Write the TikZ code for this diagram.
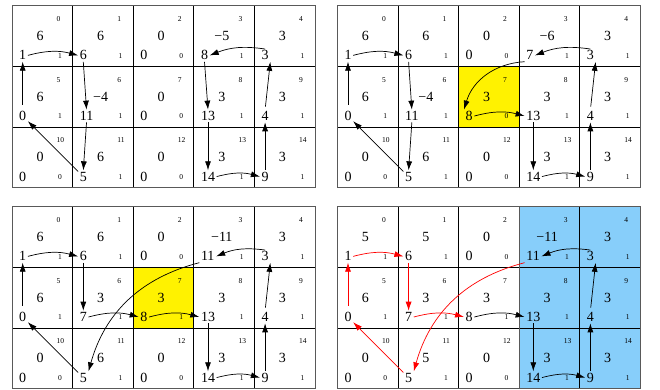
\documentclass[tikz,border=0pt]{standalone}
\usepackage{fontspec}
\setmainfont{Liberation Serif}
\usetikzlibrary{arrows.meta}
\definecolor{skyb}{RGB}{135,206,250}
\tikzset{
 big/.style={font=\fontsize{14}{14}\selectfont, inner sep=1.5pt},
 sml/.style={font=\fontsize{7.5}{7.5}\selectfont, inner sep=0pt},
 arr/.style={-{Latex[length=9pt,width=6pt]}, line width=0.7pt},
 redarr/.style={arr, red},
 gridl/.style={line width=0.8pt},
 outer/.style={line width=1pt, draw=black!65},
}
\newcommand\mypanel[4]{%
 \foreach \i/\t/\b/\s in {#4} {
   \pgfmathtruncatemacro\cc{mod(\i,5)}
   \pgfmathtruncatemacro\rr{int(\i/5)}
   \pgfmathsetmacro\xx{#2+\cc*60.6}
   \pgfmathsetmacro\yy{#3-\rr*60.6}
   \node[sml, anchor=base west] (#1i\i) at (\xx+44.5, \yy-15.7) {\i};
   \node[big, anchor=base] (#1t\i) at (\xx+28, \yy-34.5) {\t};
   \node[big, anchor=base west] (#1b\i) at (\xx+5.5, \yy-54) {\b};
   \node[sml, anchor=base] (#1s\i) at (\xx+48, \yy-52.3) {\s};
 }
}
\newcommand\mygrid[2]{%
 \foreach \k in {1,...,4} {\draw[gridl] (#1+\k*60.6,#2) -- (#1+\k*60.6,#2-181.8);}
 \foreach \k in {1,2} {\draw[gridl] (#1,#2-\k*60.6) -- (#1+303,#2-\k*60.6);}
 \draw[outer] (#1,#2) rectangle (#1+303,#2-181.8);
}
\begin{document}
\begin{tikzpicture}[x=1pt,y=1pt]
\useasboundingbox (0,0) rectangle (660,390);
% backgrounds
\fill[yellow] (337.3+2*60.6,384-60.6) rectangle (337.3+3*60.6,384-2*60.6);
\fill[yellow] (12+2*60.6,183-60.6) rectangle (12+3*60.6,183-2*60.6);
\fill[skyb] (337.3+3*60.6,183) rectangle (337.3+5*60.6,183-181.8);
% grids
\mygrid{12}{384}
\mygrid{337.3}{384}
\mygrid{12}{183}
\mygrid{337.3}{183}
\draw[outer] (337.3+3*60.6,183) rectangle (337.3+5*60.6,183-181.8);
% panel contents
\mypanel{A}{12}{384}{0/6/1/1, 1/6/6/1, 2/0/0/0, 3/−5/8/1, 4/3/3/1, 5/6/0/1, 6/−4/11/1, 7/0/0/0, 8/3/13/1, 9/3/4/1, 10/0/0/0, 11/6/5/1, 12/0/0/0, 13/3/14/1, 14/3/9/1}
\mypanel{B}{337.3}{384}{0/6/1/1, 1/6/6/1, 2/0/0/0, 3/−6/7/1, 4/3/3/1, 5/6/0/1, 6/−4/11/1, 7/3/8/0, 8/3/13/1, 9/3/4/1, 10/0/0/0, 11/6/5/1, 12/0/0/0, 13/3/14/1, 14/3/9/1}
\mypanel{C}{12}{183}{0/6/1/1, 1/6/6/1, 2/0/0/0, 3/−11/11/1, 4/3/3/1, 5/6/0/1, 6/3/7/1, 7/3/8/1, 8/3/13/1, 9/3/4/1, 10/0/0/0, 11/6/5/1, 12/0/0/0, 13/3/14/1, 14/3/9/1}
\mypanel{D}{337.3}{183}{0/5/1/1, 1/5/6/1, 2/0/0/0, 3/−11/11/1, 4/3/3/1, 5/6/0/1, 6/3/7/1, 7/3/8/1, 8/3/13/1, 9/3/4/1, 10/0/0/0, 11/5/5/1, 12/0/0/0, 13/3/14/1, 14/3/9/1}
% panel A arrows
\draw[arr] (Ab0.east) to[bend left=15] (Ab1.west);
\draw[arr] (Ab1.south) -- (Ab6.north);
\draw[arr] (Ab6.south) -- (Ab11.north);
\draw[arr] (Ab11) -- (Ab5);
\draw[arr, shorten <=5pt] (Ab5.north) -- (Ab0.south);
\draw[arr] (Ab4.north) to[bend right=15] (Ab3.east);
\draw[arr] (Ab3.south) -- (Ab8.north);
\draw[arr] (Ab8.south) -- (Ab13.north);
\draw[arr] (Ab13.east) to[bend left=15] (Ab14.west);
\draw[arr] (Ab14.north) -- (Ab9.south);
\draw[arr, shorten <=3pt] (Ab9.north) -- (Ab4.south east);
% panel B arrows
\draw[arr] (Bb0.east) to[bend left=15] (Bb1.west);
\draw[arr] (Bb1.south) -- (Bb6.north);
\draw[arr] (Bb6.south) -- (Bb11.north);
\draw[arr] (Bb11) -- (Bb5);
\draw[arr, shorten <=5pt] (Bb5.north) -- (Bb0.south);
\draw[arr] (Bb4.north) to[bend right=15] (Bb3.east);
\draw[arr] (Bb3.south west) to[bend right=35] (Bb7.north west);
\draw[arr] (Bb7.east) to[bend left=15] (Bb8.west);
\draw[arr] (Bb8.south) -- (Bb13.north);
\draw[arr] (Bb13.east) to[bend left=15] (Bb14.west);
\draw[arr] (Bb14.north) -- (Bb9.south);
\draw[arr, shorten <=3pt] (Bb9.north) -- (Bb4.south east);
% panel C arrows
\draw[arr] (Cb0.east) to[bend left=15] (Cb1.west);
\draw[arr] (Cb1.south) -- (Cb6.north);
\draw[arr] (Cb6.east) to[bend left=15] (Cb7.west);
\draw[arr] (Cb7.east) to[bend left=15] (Cb8.west);
\draw[arr] (Cb3.south west) to[bend right=30] (Cb11.north east);
\draw[arr] (Cb11) -- (Cb5);
\draw[arr, shorten <=5pt] (Cb5.north) -- (Cb0.south);
\draw[arr] (Cb4.north) to[bend right=15] (Cb3.east);
\draw[arr] (Cb8.south) -- (Cb13.north);
\draw[arr] (Cb13.east) to[bend left=15] (Cb14.west);
\draw[arr] (Cb14.north) -- (Cb9.south);
\draw[arr, shorten <=3pt] (Cb9.north) -- (Cb4.south east);
% panel D arrows
\draw[redarr] (Db0.east) to[bend left=15] (Db1.west);
\draw[redarr] (Db1.south) -- (Db6.north);
\draw[redarr] (Db6.east) to[bend left=15] (Db7.west);
\draw[arr] (Db7.east) to[bend left=15] (Db8.west);
\draw[redarr] (Db3.south west) to[bend right=30] (Db11.north east);
\draw[redarr] (Db11) -- (Db5);
\draw[redarr, shorten <=5pt] (Db5.north) -- (Db0.south);
\draw[arr] (Db4.north) to[bend right=15] (Db3.east);
\draw[arr] (Db8.south) -- (Db13.north);
\draw[arr] (Db13.east) to[bend left=15] (Db14.west);
\draw[arr] (Db14.north) -- (Db9.south);
\draw[arr, shorten <=3pt] (Db9.north) -- (Db4.south east);
\end{tikzpicture}
\end{document}
